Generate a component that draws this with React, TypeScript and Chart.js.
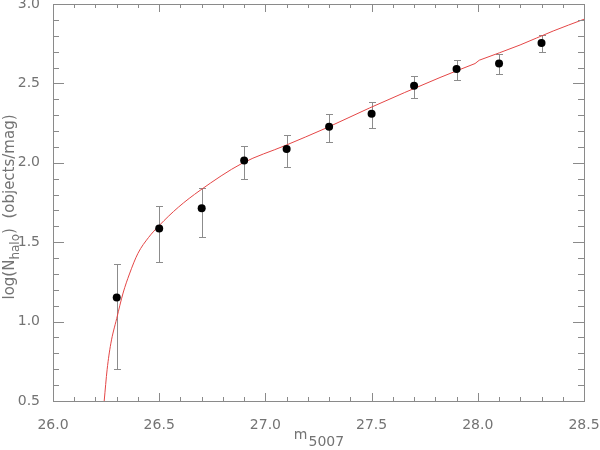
import React, { useEffect, useRef } from "react";
import { Chart, registerables } from "chart.js";

Chart.register(...registerables);

// Observed points (m5007, log N) with asymmetric error bars
const magValues = [26.3, 26.5, 26.7, 26.9, 27.1, 27.3, 27.5, 27.7, 27.9, 28.1, 28.3];
const logNValues = [1.151, 1.587, 1.714, 2.014, 2.087, 2.227, 2.309, 2.485, 2.59, 2.625, 2.755];
const errUpper = [1.365, 1.729, 1.844, 2.108, 2.175, 2.307, 2.383, 2.548, 2.646, 2.684, 2.807];
const errLower = [0.699, 1.373, 1.532, 1.899, 1.976, 2.131, 2.221, 2.408, 2.521, 2.558, 2.697];

// Fitted curve (two branches with a small step at m = 28.0)
const curveMagA = [26.241, 26.255, 26.272, 26.3, 26.33, 26.36, 26.4, 26.45, 26.5, 26.59, 26.692, 26.891, 27.092, 27.288, 27.49, 27.822, 27.987];
const curveLogNA = [0.5, 0.7, 0.86, 1.02, 1.18, 1.3, 1.43, 1.53, 1.605, 1.72, 1.826, 1.997, 2.108, 2.22, 2.345, 2.537, 2.625];
const curveMagB = [28.007, 28.199, 28.355, 28.5];
const curveLogNB = [2.646, 2.742, 2.83, 2.904];

// Axes
const xMin = 26.0, xMax = 28.5, xMajor = 0.5, xMinor = 0.1;
const yMin = 0.5, yMax = 3.0, yMajor = 0.5, yMinor = 0.1;

const AXIS_COLOR = "#8a8a8a";
const TEXT_COLOR = "#737373";
const CURVE_COLOR = "rgb(228,70,70)";
const FONT = "DejaVu Sans";

const frameAndTicks = {
  id: "frameAndTicks",
  afterDraw(chart: any) {
    const { ctx, chartArea: a, scales } = chart;
    const xs = scales.x, ys = scales.y;
    ctx.save();
    ctx.strokeStyle = AXIS_COLOR;
    ctx.lineWidth = 1;
    ctx.strokeRect(Math.round(a.left) + 0.5, Math.round(a.top) + 0.5, Math.round(a.right - a.left), Math.round(a.bottom - a.top));
    ctx.beginPath();
    const nx = Math.round((xMax - xMin) / xMinor);
    for (let i = 0; i <= nx; i++) {
      const v = xMin + i * xMinor;
      const major = Math.abs(v / xMajor - Math.round(v / xMajor)) < 1e-6;
      const len = major ? 8 : 4;
      const px = Math.round(xs.getPixelForValue(v)) + 0.5;
      ctx.moveTo(px, a.bottom); ctx.lineTo(px, a.bottom - len);
      ctx.moveTo(px, a.top); ctx.lineTo(px, a.top + len);
    }
    const ny = Math.round((yMax - yMin) / yMinor);
    for (let i = 0; i <= ny; i++) {
      const v = yMin + i * yMinor;
      const major = Math.abs(v / yMajor - Math.round(v / yMajor)) < 1e-6;
      const len = major ? 11 : 6;
      const py = Math.round(ys.getPixelForValue(v)) + 0.5;
      ctx.moveTo(a.left, py); ctx.lineTo(a.left + len, py);
      ctx.moveTo(a.right, py); ctx.lineTo(a.right - len, py);
    }
    ctx.stroke();

    // Axis titles with subscripts
    ctx.fillStyle = TEXT_COLOR;
    ctx.textBaseline = "alphabetic";
    const big = `14px ${FONT}`;
    ctx.font = big;
    const wm = ctx.measureText("m").width;
    const ws = ctx.measureText("5007").width;
    const cx = (a.left + a.right) / 2;
    const x0 = cx - (wm + ws) / 2;
    ctx.fillText("m", x0, 439);
    ctx.fillText("5007", x0 + wm + 1, 446);

    // y title: log(N_halo) (objects/mag)
    const ybig = `15px ${FONT}`;
    ctx.translate(14, 207);
    ctx.rotate(-Math.PI / 2);
    const parts: [string, string, number][] = [
      ["log(N", ybig, 0],
      ["halo", `12px ${FONT}`, 5],
      [")  (objects/mag)", ybig, 0],
    ];
    let total = 0;
    for (const [t, f] of parts) { ctx.font = f; total += ctx.measureText(t).width; }
    let xx = -total / 2;
    for (const [t, f, dy] of parts) {
      ctx.font = f;
      ctx.fillText(t, xx, dy);
      xx += ctx.measureText(t).width;
    }
    ctx.restore();
  },
};

const errorBars = {
  id: "errorBars",
  beforeDatasetsDraw(chart: any) {
    const { ctx, scales } = chart;
    ctx.save();
    ctx.strokeStyle = "#8c8c8c";
    ctx.lineWidth = 1;
    ctx.beginPath();
    for (let i = 0; i < magValues.length; i++) {
      const px = Math.round(scales.x.getPixelForValue(magValues[i])) + 0.5;
      const pt = Math.round(scales.y.getPixelForValue(errUpper[i])) + 0.5;
      const pb = Math.round(scales.y.getPixelForValue(errLower[i])) + 0.5;
      ctx.moveTo(px, pt); ctx.lineTo(px, pb);
      ctx.moveTo(px - 3.5, pt); ctx.lineTo(px + 3.5, pt);
      ctx.moveTo(px - 3.5, pb); ctx.lineTo(px + 3.5, pb);
    }
    ctx.stroke();
    ctx.restore();
  },
};

const curveDataset = (xs: number[], ys: number[], monotone: boolean) =>
  ({
    type: "line",
    data: xs.map((m, i) => ({ x: m, y: ys[i] })),
    borderColor: CURVE_COLOR,
    borderWidth: 1,
    pointRadius: 0,
    tension: 0,
    cubicInterpolationMode: monotone ? "monotone" : "default",
    fill: false,
    order: 2,
  } as any);

export default function App() {
  const ref = useRef<HTMLCanvasElement | null>(null);
  useEffect(() => {
    if (!ref.current) return;
    const nA = curveMagA.length;
    const chart = new Chart(ref.current, {
      type: "scatter",
      data: {
        datasets: [
          curveDataset(curveMagA, curveLogNA, true),
          curveDataset([curveMagA[nA - 1], curveMagB[0]], [curveLogNA[nA - 1], curveLogNB[0]], false),
          curveDataset(curveMagB, curveLogNB, true),
          {
            type: "scatter",
            data: magValues.map((m, i) => ({ x: m, y: logNValues[i] })),
            backgroundColor: "#000",
            borderColor: "#000",
            borderWidth: 0,
            pointRadius: 4,
            order: 1,
          },
        ],
      },
      options: {
        responsive: false,
        animation: false,
        events: [],
        layout: { padding: { top: 3, right: 16, left: 0, bottom: 0 } },
        plugins: { legend: { display: false }, tooltip: { enabled: false } },
        scales: {
          x: {
            type: "linear",
            min: xMin,
            max: xMax,
            grid: { display: false },
            border: { display: false },
            ticks: {
              stepSize: xMajor,
              color: TEXT_COLOR,
              font: { family: FONT, size: 14 },
              padding: 8,
              maxRotation: 0,
              callback: (v: any) => Number(v).toFixed(1),
            },
            afterFit: (s: any) => { s.height = 49; s.paddingLeft = 0; s.paddingRight = 0; },
          },
          y: {
            type: "linear",
            min: yMin,
            max: yMax,
            grid: { display: false },
            border: { display: false },
            ticks: {
              stepSize: yMajor,
              color: TEXT_COLOR,
              font: { family: FONT, size: 14 },
              padding: 5,
              callback: (v: any) => Number(v).toFixed(1),
            },
            afterFit: (s: any) => { s.width = 53; s.paddingTop = 0; s.paddingBottom = 0; },
          },
        },
      },
      plugins: [errorBars, frameAndTicks],
    });
    return () => chart.destroy();
  }, []);
  return (
    <div style={{ position: "fixed", left: 0, top: 0, width: 600, height: 450, background: "#fff" }}>
      <canvas ref={ref} width={600} height={450} style={{ display: "block" }} />
    </div>
  );
}
